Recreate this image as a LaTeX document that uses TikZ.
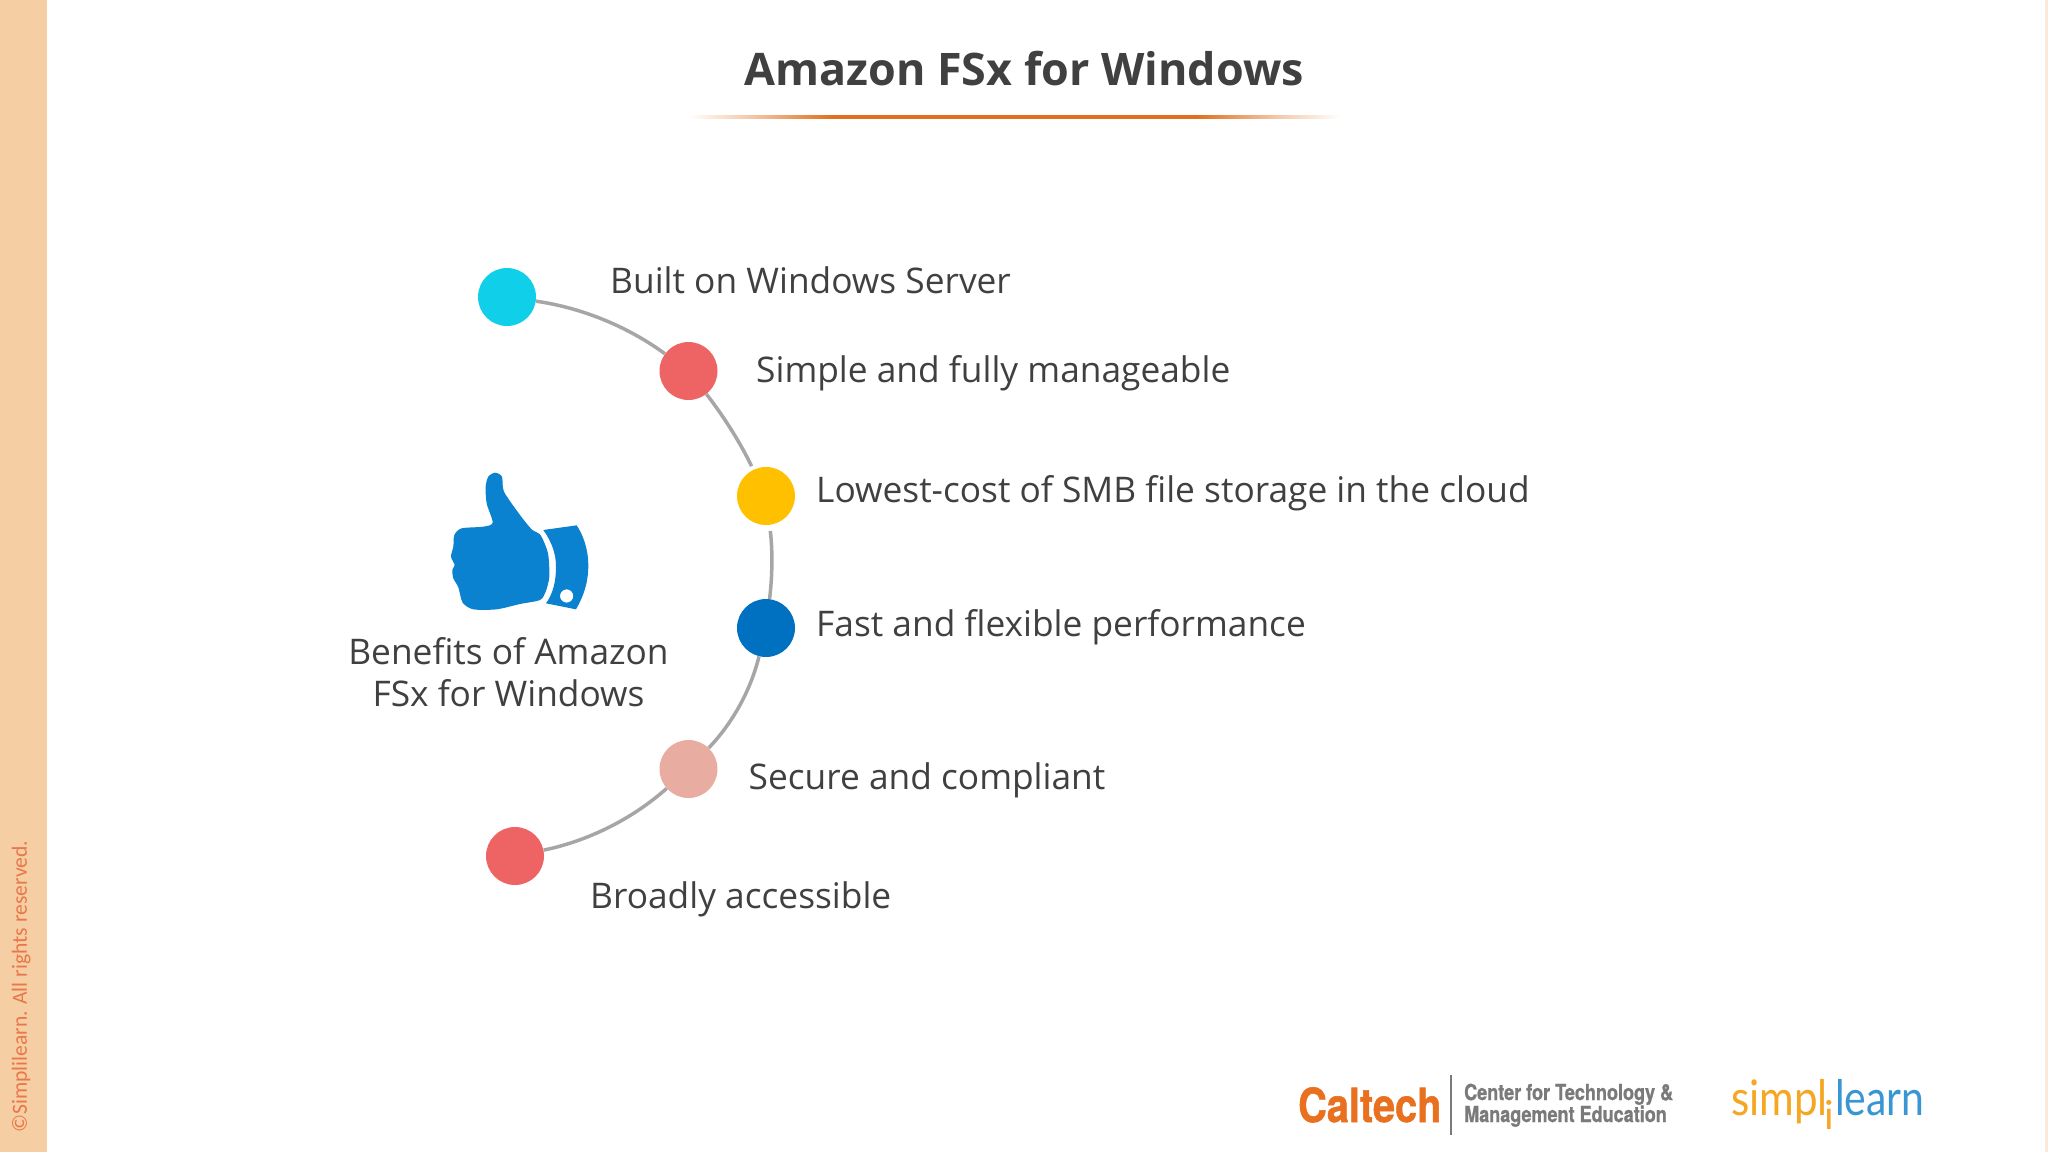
\documentclass[tikz,border=0pt]{standalone}
\usepackage{fontspec}
\setmainfont{Open Sans}
\newfontfamily\herosf[BoldFeatures={FakeBold=1.2}]{TeX Gyre Heros}
\newfontfamily\latof{Lato}
\newfontfamily\carlf{Carlito}
\usetikzlibrary{shapes.geometric}
\definecolor{bandc}{HTML}{F5CFA3}
\definecolor{stripc}{HTML}{FBE9D9}
\definecolor{copyc}{HTML}{E9774A}
\definecolor{ruleo}{HTML}{E0701F}
\definecolor{titlec}{HTML}{404040}
\definecolor{bodyc}{HTML}{404040}
\definecolor{arcc}{HTML}{A6A6A6}
\definecolor{thumbc}{HTML}{0A82D0}
\definecolor{dcyan}{HTML}{10CFE8}
\definecolor{dred}{HTML}{EE6464}
\definecolor{dyellow}{HTML}{FFC000}
\definecolor{dblue}{HTML}{0070C0}
\definecolor{dpink}{HTML}{E8ADA0}
\definecolor{calo}{HTML}{E8701E}
\definecolor{calg}{HTML}{7A7A7A}
\definecolor{simo}{HTML}{F5A623}
\definecolor{simb}{HTML}{3A96D2}
\pgfdeclarehorizontalshading{rulefade}{100bp}{color(0bp)=(white); color(25bp)=(white); color(30bp)=(ruleo!40!white); color(36bp)=(ruleo); color(64bp)=(ruleo); color(70bp)=(ruleo!40!white); color(75bp)=(white); color(100bp)=(white)}
\tikzset{
  dot/.style={circle,fill=#1,minimum size=58pt,inner sep=0pt,draw=none},
  link/.style={draw=arcc,line width=3.5pt,looseness=.85},
  bodytext/.style={anchor=base west,inner sep=0pt,text=bodyc,font=\fontsize{35.3}{42}\selectfont},
  logotext/.style={anchor=base west,inner sep=0pt,text=calg,xscale=.82,font=\herosf\bfseries\fontsize{22}{24}\selectfont},
}
\begin{document}
\begin{tikzpicture}[x=1pt,y=-1pt]
\useasboundingbox (0,0) rectangle (2048,1152);
\fill[white] (0,0) rectangle (2048,1152);
\fill[bandc] (0,0) rectangle (47,1152);
\fill[stripc] (2045,0) rectangle (2048,1152);
\node[rotate=90,anchor=base west,inner sep=0pt,text=copyc,font=\carlf\fontsize{21.6}{26}\selectfont] (copy) at (27,1133) {©Simplilearn. All rights reserved.};
\node[anchor=base,inner sep=0pt,text=titlec,font=\bfseries\fontsize{44.85}{50}\selectfont] (title) at (1024,85) {Amazon FSx for Windows};
\shade[shading=rulefade] (688,115.2) rectangle (1340,118.8);
% discs
\node[dot=dcyan] (n1) at (507,297) {};
\node[dot=dred] (n2) at (688.5,371) {};
\node[dot=dyellow] (n3) at (766,496) {};
\node[dot=dblue] (n4) at (766,628) {};
\node[dot=dpink] (n5) at (688.5,769) {};
\node[dot=dred] (n6) at (515,856) {};
\draw[link] (n1) to[bend left=14] (n2);
\draw[link,shorten >=4pt] (n2) to[bend left=6] (n3);
\draw[link,shorten <=6pt] (n3) to[bend left=7] (n4);
\draw[link] (n4) to[bend left=15] (n5);
\draw[link] (n5) to[bend left=15] (n6);
% labels
\node[bodytext] (t1) at (610,293) {Built on Windows Server};
\node[bodytext] (t2) at (756,382) {Simple and fully manageable};
\node[bodytext] (t3) at (816,502.5) {Lowest-cost of SMB file storage in the cloud};
\node[bodytext] (t4) at (816,636.5) {Fast and flexible performance};
\node[bodytext] (t5) at (748.5,789) {Secure and compliant};
\node[bodytext] (t6) at (590,908) {Broadly accessible};
\node[anchor=base,align=center,inner sep=0pt,text=bodyc,font=\fontsize{35.3}{42}\selectfont] (bt) at (508.5,706) {Benefits of Amazon\\FSx for Windows};
% thumb
\begin{scope}[shift={(420,450)},x=0.3333pt,y=-0.3333pt]
\fill[thumbc] plot[smooth cycle,tension=.45] coordinates {(225,68) (246,80) (252,125) (300,195) (335,238) (362,256) (384,310) (388,380) (377,425) (360,450) (300,462) (230,478) (160,478) (128,458) (115,412) (100,385) (97,360) (104,345) (93,320) (100,290) (103,255) (125,235) (190,230) (218,218) (200,160) (197,110) (205,80)};
\fill[thumbc,even odd rule] (370,240) -- (470,226) .. controls (490,255) and (505,300) .. (505,345) .. controls (505,400) and (490,440) .. (468,478) -- (378,460) .. controls (400,430) and (409,390) .. (408,345) .. controls (407,310) and (395,275) .. (370,240) -- cycle (440,438) circle[radius=20];
\end{scope}
% logos
\node[anchor=base west,inner sep=0pt,text=calo,xscale=.845,font=\herosf\bfseries\fontsize{47}{50}\selectfont] (cal) at (1298,1122) {Caltech};
\draw[calg,line width=2pt] (1451,1075) -- (1451,1135);
\node[logotext] (l1) at (1464,1100) {Center for Technology \&};
\node[logotext] (l2) at (1464,1122) {Management Education};
\node[anchor=base west,inner sep=0pt,text=simo,xscale=.86,font=\latof\fontsize{49}{52}\selectfont] (s1) at (1731,1115) {simpl};
\node[anchor=base,inner sep=0pt,text=simo,font=\latof\fontsize{40}{50}\selectfont] (s2) at (1829,1129) {i};
\node[anchor=base west,inner sep=0pt,text=simb,xscale=.835,font=\latof\fontsize{49}{52}\selectfont] (s3) at (1835,1115) {learn};
\end{tikzpicture}
\end{document}
